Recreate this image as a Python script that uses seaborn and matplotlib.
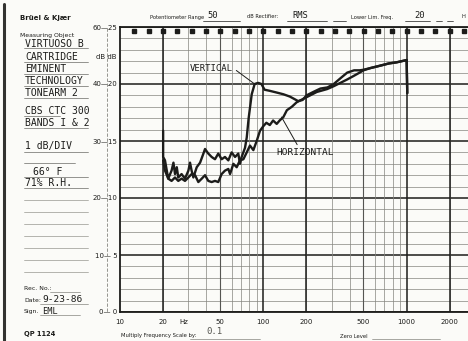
import numpy as np
import pandas as pd
import matplotlib
matplotlib.use("Agg")
import matplotlib.pyplot as plt
import seaborn as sns
from matplotlib.lines import Line2D

sns.set_theme(style="white")
plt.rcParams["font.family"] = ["DejaVu Sans"]

# ---------------- data ----------------
vert_freq = [20, 20, 20.6, 21.7, 22.9, 23.6, 24.2, 24.9, 25.5, 26.9, 28.4, 30.0, 30.8, 31.6, 32.5,
             34.3, 36.2, 38.2, 39.2, 41.3, 43.6, 46.0, 48.5, 51.2, 54.0, 57.0, 60.1, 63.5, 66.9,
             68.7, 70.6, 74.5, 76.6, 79, 83, 87, 92, 97, 102, 111, 124, 138, 153, 175, 188, 200,
             223, 250, 280, 310, 345, 385, 430, 470, 500, 560, 650, 750, 850, 1000, 1010]
vert_db = [15.9, 13.6, 13.3, 11.7, 12.4, 13.1, 12.1, 12.7, 11.8, 12.1, 11.7, 12.4, 13.1, 12.4, 11.8,
           12.7, 13.1, 13.9, 14.3, 13.9, 13.6, 13.4, 13.9, 13.4, 13.6, 13.3, 14.0, 13.6, 13.9,
           13.0, 13.6, 14.4, 15.3, 17.0, 19.1, 20.0, 20.1, 20.0, 19.5, 19.4, 19.25, 19.1, 18.9,
           18.5, 18.6, 19.0, 19.3, 19.6, 19.7, 20.0, 20.5, 21.0, 21.2, 21.2, 21.25, 21.4, 21.6,
           21.8, 21.9, 22.1, 19.2]

horiz_freq = [20, 20.6, 21.7, 22.9, 24.2, 25.5, 26.9, 28.4, 30.0, 31.6, 33.4, 35.2, 37.2, 39.2, 41.3,
              43.6, 46.0, 48.5, 51.2, 54.0, 57.0, 58.6, 61.8, 65.2, 68.7, 72.6, 76.6, 80.7, 85.2,
              89.9, 94.8, 100, 105, 111, 117, 124, 130, 138, 146, 158, 171, 190, 212, 236, 278,
              309, 345, 385, 426, 470, 500, 560, 650, 750, 850, 1000, 1010]
horiz_db = [13.3, 12.4, 11.7, 11.5, 11.8, 11.5, 11.7, 11.5, 11.8, 12.1, 12.0, 11.4, 11.7, 12.0, 11.5,
            11.4, 11.5, 11.4, 12.1, 12.4, 12.55, 12.1, 13.0, 12.7, 13.3, 13.4, 14.0, 14.6, 14.2,
            15.0, 15.9, 16.3, 16.6, 16.4, 16.8, 16.5, 16.8, 17.1, 17.7, 18.0, 18.4, 18.7, 19.0,
            19.3, 19.55, 19.8, 20.1, 20.4, 20.7, 21.0, 21.2, 21.4, 21.6, 21.8, 21.9, 22.1, 19.2]

freq_ticks = [10, 20, 50, 100, 200, 500, 1000, 2000]
freq_labels = ["10", "20", "50", "100", "200", "500", "1000", "2000"]
db_ticks = [0, 5, 10, 15, 20, 25]
db_labels = ["0\u2014 0", "10\u2014 5", "20\u201410", "30\u201415", "40\u201420", "60\u201425"]

left_entries = ["VIRTUOSO B", "CARTRIDGE", "EMINENT", "TECHNOLOGY", "TONEARM 2",
                "CBS CTC 300", "BANDS I & 2", "1 dB/DIV", "66\u00b0 F", "71% R.H."]

# ---------------- figure ----------------
W, H = 468, 341
paper = "#fbfbf8"
ink = "#1c1c1a"
grey = "#85857f"
mono = "DejaVu Sans Mono"
fig = plt.figure(figsize=(W / 100, H / 100), dpi=100, facecolor=paper)


def fx(p):
    return p / W


def fy(p):
    return 1 - p / H


def hline(x0, x1, y, lw=0.6, color=grey, ls="-"):
    fig.add_artist(Line2D([fx(x0), fx(x1)], [fy(y), fy(y)], lw=lw, color=color, ls=ls))


def ftext(x, y, s, size=5, family="DejaVu Sans", weight="normal", ha="left", color=ink):
    fig.text(fx(x), fy(y), s, fontsize=size, family=family, fontweight=weight,
             ha=ha, va="center", color=color)


ax = fig.add_axes([fx(120), fy(312), fx(468) - fx(120), fy(27) - fy(312)])
ax.set_facecolor(paper)
ax.set_xscale("log")
ax.set_xlim(10, 2680)
ax.set_ylim(0, 25)

# recorder-paper grid
for d in range(0, 26):
    if d % 5 == 0:
        ax.axhline(d, color=ink, lw=1.1, zorder=1)
    else:
        ax.axhline(d, color=grey, lw=0.5, zorder=1)
for e in (1, 2, 3):
    for k in range(2, 10):
        f = k * 10 ** e
        if f < 2680:
            ax.axvline(f, color=grey, lw=0.5, zorder=1)
for f in (50, 500):
    ax.axvline(f, color="#555552", lw=0.8, zorder=1)
for f in (20, 100, 200, 1000, 2000):
    ax.axvline(f, color=ink, lw=1.1, zorder=1)

# sprocket marks along top edge
marks = [10 ** (1 + 0.1 * k) for k in range(1, 25)]
ax.plot(marks, [0.985] * len(marks), ls="none", marker="s", ms=2.6, color=ink,
        transform=ax.get_xaxis_transform(), clip_on=False, zorder=3)

# curves
df = pd.concat([
    pd.DataFrame({"freq": vert_freq, "db": vert_db, "series": "VERTICAL"}),
    pd.DataFrame({"freq": horiz_freq, "db": horiz_db, "series": "HORIZONTAL"}),
])
sns.lineplot(data=df, x="freq", y="db", units="series", estimator=None, sort=False,
             color=ink, lw=1.7, ax=ax, legend=False, zorder=4)

ax.annotate("VERTICAL", xy=(87, 20.0), xytext=(30.8, 21.4), fontsize=6.5, family=mono,
            color=ink, va="center", ha="left",
            arrowprops=dict(arrowstyle="-", color=ink, lw=0.7, shrinkA=0, shrinkB=0,
                            relpos=(1.0, 0.5)))
ax.annotate("HORIZONTAL", xy=(134, 17.1), xytext=(122.6, 14.0), fontsize=6.8, family=mono,
            color=ink, va="center", ha="left",
            arrowprops=dict(arrowstyle="-", color=ink, lw=0.7, shrinkA=0, shrinkB=0,
                            relpos=(0.4, 1.0)))

# axes styling
for s in ("top", "bottom", "left"):
    ax.spines[s].set_color(ink)
    ax.spines[s].set_linewidth(1.3)
ax.spines["right"].set_visible(False)
ax.set_xticks(freq_ticks)
ax.set_xticklabels(freq_labels)
ax.set_xticks([], minor=True)
ax.set_yticks(db_ticks)
ax.set_yticklabels(db_labels)
ax.tick_params(axis="x", length=0, pad=5, labelsize=5, colors=ink)
ax.tick_params(axis="y", length=0, pad=2, labelsize=5, colors=ink)
ax.set_xlabel("")
ax.set_ylabel("")
ax.text(28, -0.9, "Hz", fontsize=5, color=ink, ha="center", va="center", clip_on=False)

# left scale rule and its "dB dB" caption
fig.add_artist(Line2D([fx(107), fx(107)], [fy(28), fy(312)], lw=0.6, color=grey, ls=(0, (4, 2))))
ftext(117, 57, "dB dB", size=5, ha="right")

# left border of the sheet
fig.add_artist(Line2D([fx(4), fx(4)], [fy(4), fy(341)], lw=2.2, color="#333330"))

# header
ftext(20, 18, "Br\u00fcel & Kj\u00e6r", size=5, weight="bold")
ftext(150, 17, "Potentiometer Range", size=3.7)
ftext(207, 16, "50", size=6.3, family=mono)
hline(203, 240, 21, lw=0.5, color=ink)
ftext(247, 17, "dB Rectifier:", size=3.7)
ftext(292, 16, "RMS", size=6.3, family=mono)
hline(287, 327, 21, lw=0.5, color=ink)
hline(333, 346, 21, lw=0.5, color=ink)
ftext(351, 17, "Lower Lim. Freq.", size=3.7)
ftext(414, 16, "20", size=6.3, family=mono)
hline(405, 430, 21, lw=0.5, color=ink)
hline(436, 442, 21, lw=0.5, color=ink)
hline(447, 453, 21, lw=0.5, color=ink)
ftext(461, 17, "H", size=3.7)

# left form
ftext(20, 35, "Measuring Object", size=4.4)
ys = [44, 57, 69, 81, 93, 111, 123, 146, 172, 183]
xs = [25, 25, 25, 25, 25, 25, 25, 25, 33, 25]
for s, x, y in zip(left_entries, xs, ys):
    ftext(x, y, s, size=7, family=mono)
for y in (48, 62, 74, 86, 98, 128, 152, 177, 188):
    hline(24, 88, y, lw=0.55, color="#777772")
hline(24, 60, 116, lw=0.55, color="#777772")
hline(24, 75, 163, lw=0.55, color="#777772")
for y in (200, 212, 224, 236, 248, 260, 272):
    hline(24, 88, y, lw=0.55, color="#a0a09a")
ftext(24, 289, "Rec. No.:", size=4.4)
hline(50, 80, 292, lw=0.5, color=grey)
ftext(24, 300, "Date:", size=4.4)
ftext(42, 299, "9-23-86", size=6.8, family=mono)
hline(40, 88, 304, lw=0.5, color=grey)
ftext(24, 312, "Sign.", size=4.4)
ftext(42, 311, "EML", size=6.2, family=mono)
hline(40, 80, 315, lw=0.5, color=grey)
ftext(24, 334, "QP 1124", size=4.8, weight="bold")

# footer
ftext(121, 336, "Multiply Frequency Scale by:", size=3.8)
hline(190, 260, 339, lw=0.5, color=grey)
ftext(206, 331, "0.1", size=6.5, family=mono, color="#55554f")
ftext(340, 336, "Zero Level", size=3.8)
hline(372, 440, 339, lw=0.5, color=grey)

fig.savefig("out.png", dpi=100, facecolor=paper)
